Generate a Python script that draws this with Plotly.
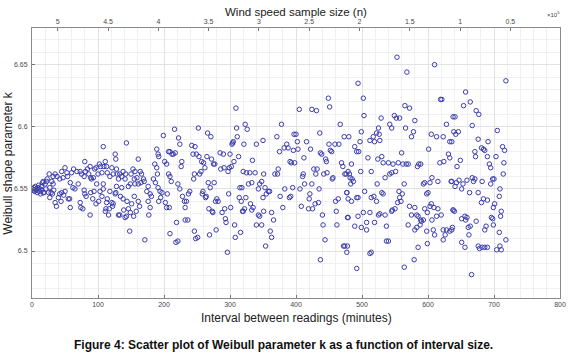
import plotly.graph_objects as go

# (interval in minutes, Weibull shape parameter k)
seg_0_160 = [
    (1, 6.550), (2, 6.549), (3, 6.551), (4, 6.548), (5, 6.552), (6, 6.549), (7, 6.550), (8, 6.547),
    (9, 6.551), (10, 6.553), (11, 6.548), (12, 6.550), (13, 6.546), (14, 6.552), (15, 6.549),
    (16, 6.555), (17, 6.547), (17, 6.556), (18, 6.547), (20, 6.554), (21, 6.550), (22, 6.556),
    (23, 6.558), (27, 6.551), (30, 6.556), (29, 6.547), (32, 6.554),
    (26, 6.562), (35, 6.562), (32, 6.560), (38, 6.560), (42, 6.558), (47, 6.559), (45, 6.564),
    (50, 6.567), (53, 6.563), (54, 6.560), (58, 6.555), (60, 6.563), (63, 6.566), (68, 6.564),
    (73, 6.564), (75, 6.562), (80, 6.572), (81, 6.564), (79, 6.560), (84, 6.566), (86, 6.562),
    (88, 6.568), (89, 6.559), (90, 6.558), (93, 6.559), (95, 6.566), (97, 6.567), (100, 6.562),
    (102, 6.570), (104, 6.568), (106, 6.563), (108, 6.554), (109, 6.568), (111, 6.572), (113, 6.568),
    (114, 6.563), (118, 6.560), (121, 6.567), (123, 6.562), (126, 6.578), (127, 6.574), (128, 6.566),
    (129, 6.562), (131, 6.558), (133, 6.562), (136, 6.560), (138, 6.564), (141, 6.558), (142, 6.562),
    (143, 6.587), (146, 6.552), (149, 6.554), (150, 6.562), (153, 6.566), (155, 6.558), (156, 6.554),
    (108, 6.584),
    (25, 6.547), (27, 6.543), (31, 6.546), (33, 6.549), (35, 6.539), (37, 6.536), (40, 6.543),
    (42, 6.546), (44, 6.540), (45, 6.547), (48, 6.545), (50, 6.548), (55, 6.542), (57, 6.542),
    (58, 6.535), (62, 6.551), (65, 6.550), (70, 6.554), (73, 6.539), (74, 6.535), (77, 6.534),
    (79, 6.549), (80, 6.546), (82, 6.544), (88, 6.529), (89, 6.547), (92, 6.542), (94, 6.548),
    (97, 6.538), (98, 6.554), (101, 6.540), (103, 6.548), (106, 6.544), (108, 6.550), (111, 6.532),
    (112, 6.534), (113, 6.539), (114, 6.542), (116, 6.529), (117, 6.534), (118, 6.548), (121, 6.539),
    (122, 6.536), (123, 6.538), (126, 6.546), (127, 6.547), (128, 6.552), (131, 6.529), (133, 6.529),
    (134, 6.544), (136, 6.551), (138, 6.542), (139, 6.533), (141, 6.527), (143, 6.528), (144, 6.540),
    (146, 6.534), (148, 6.516), (149, 6.531), (151, 6.538), (154, 6.528), (155, 6.544), (158, 6.532),
    (161, 6.540), (163, 6.536),
]

seg_160_320 = [
    (161, 6.574), (156, 6.564), (164, 6.564), (166, 6.562), (159, 6.559), (169, 6.558), (161, 6.554),
    (165, 6.555), (170, 6.556), (176, 6.552), (174, 6.548), (179, 6.546), (181, 6.544), (176, 6.540),
    (179, 6.535), (177, 6.529), (171, 6.509), (189, 6.582), (191, 6.578), (192, 6.576), (186, 6.570),
    (189, 6.567), (190, 6.562), (184, 6.558), (187, 6.555), (191, 6.551), (194, 6.548), (195, 6.543),
    (192, 6.540), (197, 6.547), (199, 6.593), (201, 6.572), (204, 6.570), (207, 6.580), (209, 6.580),
    (212, 6.578), (207, 6.562), (209, 6.560), (211, 6.556), (205, 6.546), (204, 6.535), (202, 6.539),
    (208, 6.535), (209, 6.514), (214, 6.578), (216, 6.598), (217, 6.579), (219, 6.523), (221, 6.508),
    (218, 6.507), (222, 6.591), (224, 6.586), (227, 6.572), (226, 6.568), (221, 6.554), (224, 6.550),
    (228, 6.544), (231, 6.540), (232, 6.535), (234, 6.540), (237, 6.546), (232, 6.525), (236, 6.525),
    (239, 6.548), (242, 6.585), (244, 6.578), (247, 6.584), (249, 6.578), (252, 6.599), (253, 6.576),
    (246, 6.562), (245, 6.558), (246, 6.516), (248, 6.510), (251, 6.511), (254, 6.562), (256, 6.564),
    (257, 6.572), (260, 6.571), (262, 6.567), (265, 6.576), (258, 6.546), (259, 6.548), (263, 6.543),
    (264, 6.544), (266, 6.595), (267, 6.555), (270, 6.551), (268, 6.534), (271, 6.592), (272, 6.574),
    (275, 6.570), (277, 6.570), (276, 6.555), (278, 6.540), (280, 6.542), (282, 6.540), (273, 6.532),
    (274, 6.531), (279, 6.517), (269, 6.513), (285, 6.579), (286, 6.566), (290, 6.578), (288, 6.531),
    (291, 6.567), (293, 6.526), (294, 6.523), (292, 6.534), (297, 6.564), (299, 6.567), (300, 6.578),
    (302, 6.568), (303, 6.586), (304, 6.587), (305, 6.588), (306, 6.572), (298, 6.546), (301, 6.535),
    (307, 6.521), (308, 6.511), (309, 6.615), (310, 6.599), (311, 6.592), (313, 6.576), (315, 6.551),
    (317, 6.540), (318, 6.551), (319, 6.532), (316, 6.515), (296, 6.499),
]

seg_320_480 = [
    (323, 6.602), (326, 6.598), (321, 6.586), (320, 6.564), (325, 6.563), (330, 6.563), (328, 6.554),
    (333, 6.555), (314, 6.543), (322, 6.534), (324, 6.543), (331, 6.538), (320, 6.532), (333, 6.533),
    (335, 6.535), (334, 6.573), (338, 6.563), (340, 6.586), (343, 6.550), (345, 6.554), (348, 6.556),
    (350, 6.589), (351, 6.562), (353, 6.551), (350, 6.543), (345, 6.528), (343, 6.529), (340, 6.521),
    (348, 6.521), (351, 6.532), (355, 6.546), (358, 6.548), (360, 6.548), (363, 6.531), (361, 6.516),
    (363, 6.511), (354, 6.504), (366, 6.525), (368, 6.562), (371, 6.592), (372, 6.562), (373, 6.566),
    (375, 6.580), (376, 6.544), (378, 6.602), (380, 6.535), (382, 6.583), (383, 6.550), (386, 6.586),
    (388, 6.583), (391, 6.572), (393, 6.571), (390, 6.543), (392, 6.544), (395, 6.551), (396, 6.581),
    (397, 6.594), (398, 6.571), (400, 6.594), (402, 6.588), (403, 6.582), (405, 6.614), (406, 6.550),
    (408, 6.536), (410, 6.560), (411, 6.562), (412, 6.575), (413, 6.554), (416, 6.588), (419, 6.534),
    (421, 6.546), (420, 6.542), (422, 6.582), (424, 6.554), (424, 6.614), (425, 6.534), (427, 6.566),
    (429, 6.538), (430, 6.562), (431, 6.613), (432, 6.566), (434, 6.539), (435, 6.550), (436, 6.595),
    (437, 6.579), (439, 6.578), (440, 6.529), (441, 6.521), (442, 6.562), (444, 6.509), (445, 6.574),
    (446, 6.572), (447, 6.563), (449, 6.623), (450, 6.586), (451, 6.616), (452, 6.581), (454, 6.580),
    (455, 6.558), (456, 6.559), (459, 6.586), (460, 6.540), (461, 6.532), (462, 6.521), (464, 6.542),
    (465, 6.586), (467, 6.602), (469, 6.571), (471, 6.568), (473, 6.592), (474, 6.562), (476, 6.562),
    (477, 6.547), (478, 6.527), (479, 6.564), (472, 6.504), (478, 6.504), (437, 6.493),
]

seg_480_640 = [
    (494, 6.635), (502, 6.623), (503, 6.609), (499, 6.596), (497, 6.588), (489, 6.584), (492, 6.580),
    (495, 6.580), (480, 6.592), (484, 6.570), (481, 6.562), (482, 6.559), (485, 6.558), (487, 6.556),
    (483, 6.554), (498, 6.564), (509, 6.575), (514, 6.564), (512, 6.589), (517, 6.592), (519, 6.588),
    (525, 6.599), (522, 6.595), (526, 6.594), (529, 6.607), (527, 6.589), (524, 6.574), (530, 6.576),
    (532, 6.571), (535, 6.559), (540, 6.571), (542, 6.602), (545, 6.599), (547, 6.570), (549, 6.609),
    (552, 6.607), (551, 6.564), (555, 6.571), (557, 6.607), (560, 6.579), (562, 6.570), (565, 6.617),
    (566, 6.599), (567, 6.570), (570, 6.570), (572, 6.615), (575, 6.592), (578, 6.596), (580, 6.605),
    (568, 6.644), (553, 6.656), (584, 6.568), (586, 6.570), (589, 6.570), (593, 6.554), (595, 6.555),
    (598, 6.546), (600, 6.547), (601, 6.582), (603, 6.555), (605, 6.594), (606, 6.559), (610, 6.650),
    (613, 6.592), (615, 6.556), (618, 6.571), (619, 6.622), (621, 6.622), (623, 6.592), (624, 6.572),
    (628, 6.602), (631, 6.578), (633, 6.588), (635, 6.556), (638, 6.608), (640, 6.532),
    (477, 6.547), (479, 6.542), (484, 6.540), (492, 6.543), (494, 6.543), (504, 6.548), (514, 6.543),
    (518, 6.544), (522, 6.540), (523, 6.554), (530, 6.547), (532, 6.546), (535, 6.529), (542, 6.562),
    (545, 6.563), (546, 6.533), (550, 6.534), (554, 6.539), (556, 6.548), (559, 6.540), (561, 6.546),
    (564, 6.554), (572, 6.536), (575, 6.529), (580, 6.535), (583, 6.529), (585, 6.528), (589, 6.525),
    (593, 6.525), (595, 6.534), (599, 6.531), (603, 6.536), (605, 6.538), (606, 6.525), (609, 6.535),
    (613, 6.528), (615, 6.534), (620, 6.529), (623, 6.517), (626, 6.513), (628, 6.517), (633, 6.516),
    (637, 6.519), (638, 6.533), (479, 6.527), (494, 6.528), (502, 6.531), (507, 6.523), (512, 6.531),
    (519, 6.523), (525, 6.529), (527, 6.530), (499, 6.519), (507, 6.517), (489, 6.520), (537, 6.520),
    (545, 6.532), (557, 6.543), (570, 6.521), (580, 6.517), (583, 6.519), (588, 6.521), (590, 6.524),
    (598, 6.516), (608, 6.517), (610, 6.513), (623, 6.509), (537, 6.508), (540, 6.508), (514, 6.499),
    (512, 6.498), (585, 6.503), (599, 6.506), (474, 6.504), (477, 6.499), (492, 6.486), (564, 6.487),
    (579, 6.493),
]

seg_640_720 = [
    (718, 6.637), (657, 6.628), (664, 6.620), (654, 6.617), (673, 6.613), (677, 6.610), (641, 6.608),
    (667, 6.601), (639, 6.596), (642, 6.594), (646, 6.596), (705, 6.597), (636, 6.588), (676, 6.590),
    (691, 6.588), (681, 6.583), (684, 6.582), (686, 6.581), (671, 6.580), (672, 6.576), (690, 6.576),
    (703, 6.576), (713, 6.584), (716, 6.581), (633, 6.575), (649, 6.573), (644, 6.568), (693, 6.570),
    (695, 6.567), (715, 6.571), (714, 6.562), (636, 6.556), (643, 6.555), (647, 6.557), (641, 6.552),
    (653, 6.554), (651, 6.550), (659, 6.557), (667, 6.559), (669, 6.556), (671, 6.558), (682, 6.556),
    (695, 6.554), (698, 6.558), (700, 6.558), (663, 6.547), (676, 6.547), (709, 6.550), (684, 6.542),
    (681, 6.539), (690, 6.541), (701, 6.538), (708, 6.544), (699, 6.535), (711, 6.532), (710, 6.528),
    (638, 6.533), (651, 6.526), (656, 6.528), (659, 6.527), (657, 6.525), (661, 6.519), (664, 6.520),
    (673, 6.524), (696, 6.527), (698, 6.526), (688, 6.520), (686, 6.517), (699, 6.521), (662, 6.513),
    (708, 6.515), (718, 6.509), (651, 6.507), (656, 6.503), (676, 6.504), (678, 6.502), (682, 6.503),
    (686, 6.503), (690, 6.503), (704, 6.501), (709, 6.504), (711, 6.501), (636, 6.517), (666, 6.481),
]

x_range = [0, 800]
y_range = [6.4622, 6.6795]
sample_size_range = [5.256, 0.0066]          # top axis, x 10^5
sample_size_ticks = [5, 4.5, 4, 3.5, 3, 2.5, 2, 1.5, 1, 0.5]

pairs = seg_0_160 + seg_160_320 + seg_320_480 + seg_480_640 + seg_640_720
interval_min = [p[0] for p in pairs]
shape_k = [p[1] for p in pairs]

marker_color = "#3c3cae"
FONT = "Arial, Liberation Sans, sans-serif"
tick_font = dict(family=FONT, size=7, color="#4a4a4a")
label_font = dict(family=FONT, size=12, color="#222222")

fig = go.Figure()
fig.add_trace(go.Scatter(
    x=interval_min, y=shape_k, mode="markers",
    marker=dict(symbol="circle-open", size=4.5, color=marker_color, line=dict(width=1, color=marker_color)),
    showlegend=False, hoverinfo="skip",
))
fig.add_trace(go.Scatter(
    x=sample_size_ticks, y=[None] * len(sample_size_ticks), xaxis="x2", yaxis="y",
    mode="markers", showlegend=False, hoverinfo="skip",
))

fig.update_layout(
    width=580, height=360,
    margin=dict(l=32, r=20, t=28, b=62),
    paper_bgcolor="white", plot_bgcolor="white",
    xaxis=dict(
        range=x_range, dtick=100, tick0=0, ticks="inside", ticklen=3, tickcolor="#777777",
        showline=True, linecolor="#8a8a8a", linewidth=1, mirror=False, zeroline=False,
        showgrid=True, gridcolor="#e2e2e2", gridwidth=1, automargin=False,
        minor=dict(dtick=20, tick0=0, showgrid=True, gridcolor="#f0f0f0", ticks=""),
        tickfont=tick_font, ticklabelstandoff=0,
    ),
    yaxis=dict(
        range=y_range, dtick=0.05, tick0=6.5, ticks="inside", ticklen=3, tickcolor="#777777",
        showline=True, linecolor="#8a8a8a", linewidth=1, mirror=True, zeroline=False,
        showgrid=True, gridcolor="#e2e2e2", gridwidth=1, automargin=False,
        minor=dict(dtick=0.01, tick0=6.5, showgrid=True, gridcolor="#f0f0f0", ticks=""),
        tickfont=tick_font, ticklabelstandoff=2,
    ),
    xaxis2=dict(
        overlaying="x", side="top", anchor="y", range=sample_size_range,
        tickvals=sample_size_ticks, ticktext=[str(v) for v in sample_size_ticks],
        ticks="inside", ticklen=3, tickcolor="#777777", automargin=False,
        showline=True, linecolor="#8a8a8a", linewidth=1, showgrid=False, zeroline=False,
        tickfont=tick_font, ticklabelstandoff=0,
    ),
)

fig.add_annotation(text="Wind speed sample size (n)", xref="paper", yref="paper",
                   x=0.5, y=1.058, xanchor="center", yanchor="middle", showarrow=False,
                   font=dict(family=FONT, size=11.5, color="#222222"))
fig.add_annotation(text="×10<sup>5</sup>", xref="paper", yref="paper",
                   x=0.987, y=1.05, xanchor="center", yanchor="middle", showarrow=False,
                   font=dict(family=FONT, size=6, color="#444444"))
fig.add_annotation(text="Interval between readings (minutes)", xref="paper", yref="paper",
                   x=0.5, y=-0.074, xanchor="center", yanchor="middle", showarrow=False, font=label_font)
fig.add_annotation(text="Weibull shape parameter k", xref="paper", yref="paper",
                   x=-0.045, y=0.502, xanchor="center", yanchor="middle", textangle=-90,
                   showarrow=False, font=label_font)
fig.add_annotation(text="<b>Figure 4: Scatter plot of Weibull parameter k as a function of interval size.</b>",
                   xref="paper", yref="paper", x=0.476, y=-0.174, xanchor="center", yanchor="middle",
                   showarrow=False, font=dict(family=FONT, size=12, color="#111111"))

# remove the browser's default 8px page margin so the figure sits at the window's corner
fig.write_html("out.html", config={"displayModeBar": False},
               post_script="document.body.style.margin='0';")
